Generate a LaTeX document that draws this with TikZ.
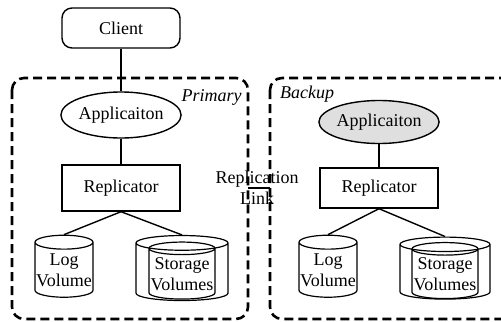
\documentclass[tikz,border=0pt]{standalone}
\usepackage{fontspec}
\setmainfont{Liberation Serif}
\usetikzlibrary{shapes.geometric}
\tikzset{
	box/.style={draw,line width=0.7pt,minimum width=59pt,minimum height=23pt,inner sep=1pt},
	app/.style={draw,ellipse,line width=0.7pt,minimum width=59pt,minimum height=23pt,inner sep=0pt},
	vol/.style={draw,cylinder,shape border rotate=90,aspect=0.25,line width=0.6pt,minimum width=29pt,minimum height=31pt,inner sep=0pt,align=center},
	site/.style={line width=1.3pt,dash pattern=on 4.5pt off 2.5pt,rounded corners=6pt},
	sitelabel/.style={font=\fontsize{9}{10.5}\selectfont\itshape,inner sep=0pt},
}
\begin{document}
\begin{tikzpicture}[x=0.5pt,y=-0.5pt,font=\fontsize{9}{10.5}\selectfont]
	\useasboundingbox (0,0) rectangle (501,321);
	\clip (0,0) rectangle (501,321);
	% the two sites
	\draw[site](12,78) rectangle (248,319);
	\draw[site](270,78) rectangle (540,319);
	\node[sitelabel,anchor=east] (primary) at (242,97) {Primary};
	\node[sitelabel] (backup) at (307,94) {Backup};
	% primary side
	\node[box,rounded corners=5pt,minimum height=20pt] (client) at (121,28) {Client};
	\node[app] (app1) at (121,115) {Applicaiton};
	\node[box] (rep1) at (121,188) {Replicator};
	\node[vol] (log1) at (64,270) {Log\\Volume};
	\node[vol,aspect=0.16,minimum height=32.5pt] (sto1a) at (182,272) {\rule{46pt}{0pt}};
	\node[vol,aspect=0.2,minimum width=33pt,minimum height=28.5pt] (sto1b) at (182,274) {Storage\\Volumes};
	\draw[line width=0.7pt](client)--(app1);
	\draw[line width=0.7pt](app1)--(rep1);
	\draw[line width=0.7pt](rep1.south)--(log1.north);
	\draw[line width=0.7pt](rep1.south)--(sto1a.north);
	% backup side
	\node[app,fill=gray!25,minimum height=21.5pt] (app2) at (379,122) {Applicaiton};
	\node[box,minimum height=20pt] (rep2) at (379,188) {Replicator};
	\node[vol] (log2) at (328,270) {Log\\Volume};
	\node[vol,aspect=0.16,minimum height=31pt] (sto2a) at (445,272) {\rule{45pt}{0pt}};
	\node[vol,aspect=0.2,minimum width=33pt,minimum height=28pt] (sto2b) at (445,274) {Storage\\Volumes};
	\draw[line width=0.7pt](app2)--(rep2);
	\draw[line width=0.7pt](rep2.south)--(log2.north);
	\draw[line width=0.7pt](rep2.south)--(sto2a.north);
	% replication link
	\coordinate (pend) at (248,188);
	\coordinate (bend) at (270,188);
	\draw[line width=0.7pt](pend)--(bend);
	\node[align=center,inner sep=0pt] (link) at (257,188) {Replication\\Link};
\end{tikzpicture}
\end{document}
